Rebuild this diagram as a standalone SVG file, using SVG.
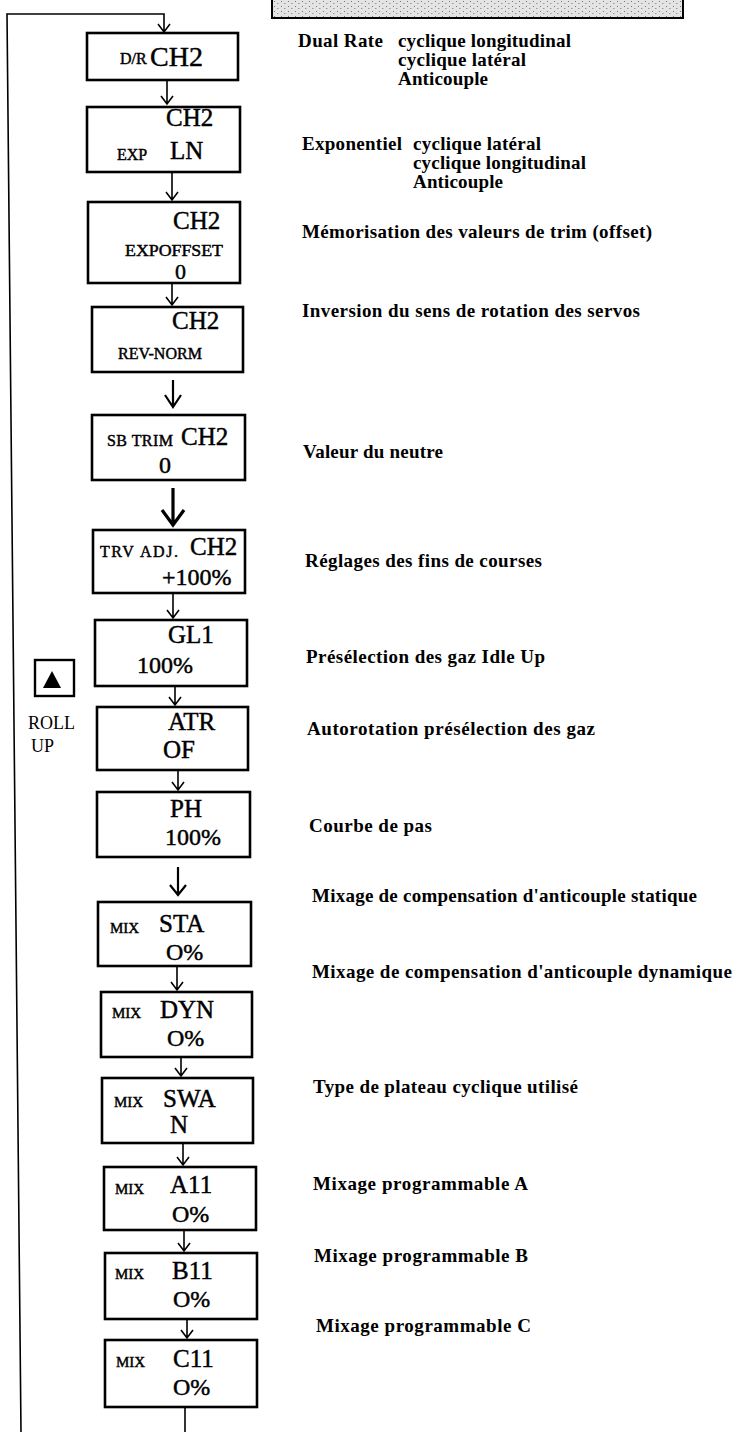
<svg xmlns="http://www.w3.org/2000/svg" width="736" height="1432" viewBox="0 0 736 1432">
<style>
.box{fill:#fff;stroke:#000;stroke-width:2.6}
text{font-family:"Liberation Serif","Times New Roman",serif;fill:#000}
.node text{stroke:#000;stroke-width:0.45}
.big{font-size:25px}
.sm{font-size:16px}
.mix{font-size:15px}
.desc{font-size:19px;font-weight:bold}
.ln{fill:none;stroke:#000;stroke-width:1.6}
.ln2{fill:none;stroke:#000;stroke-width:2.2}
.ln3{fill:none;stroke:#000;stroke-width:3.2}
</style>
<defs>
<pattern id="stip" width="7" height="5" patternUnits="userSpaceOnUse">
<rect width="7" height="5" fill="#e4e4e4"/>
<rect x="1" y="1" width="1" height="1" fill="#777"/>
<rect x="4" y="3" width="1.5" height="1" fill="#999"/>
</pattern>
</defs>
<rect width="736" height="1432" fill="#fff"/>
<rect x="272" y="-3" width="411" height="21" fill="url(#stip)" stroke="#000" stroke-width="2"/>

<g id="connectors">
<path class="ln" d="M21 1432 L7 14 L164 14 L164 32 M158 24 L164 32 L170 24"/>
<path class="ln" d="M167 81 V104 M161 96 L167 104 L173 96"/>
<path class="ln" d="M172 172 V200 M166 192 L172 200 L178 192"/>
<path class="ln" d="M172 283 V305 M166 297 L172 305 L178 297"/>
<path class="ln2" d="M173 380 V407 M165 395 L173 407 L181 395"/>
<path class="ln3" d="M173 488 V525 M162 510 L173 525 L184 510"/>
<path class="ln" d="M173 593 V618 M167 610 L173 618 L179 610"/>
<path class="ln" d="M175 686 V705 M169 697 L175 705 L181 697"/>
<path class="ln" d="M178 770 V790 M172 782 L178 790 L184 782"/>
<path class="ln2" d="M178 867 V895 M170 885 L178 895 L186 885"/>
<path class="ln" d="M177 966 V990 M171 982 L177 990 L183 982"/>
<path class="ln" d="M181 1057 V1076 M175 1068 L181 1076 L187 1068"/>
<path class="ln" d="M183 1143 V1165 M177 1157 L183 1165 L189 1157"/>
<path class="ln" d="M184 1230 V1251 M178 1243 L184 1251 L190 1243"/>
<path class="ln" d="M187 1319 V1338 M181 1330 L187 1338 L193 1330"/>
<path class="ln" d="M185 1407 V1432"/>
</g>

<g id="n1" class="node"><rect class="box" x="87" y="33" width="151" height="47"/>
<text class="sm" x="120" y="64" font-size="14">D/R</text><text x="150" y="66" font-size="28">CH2</text></g>
<g id="n2" class="node"><rect class="box" x="87" y="107" width="153" height="65"/>
<text class="big" x="166" y="126">CH2</text><text class="sm" x="117" y="160">EXP</text><text class="big" x="170" y="159">LN</text></g>
<g id="n3" class="node"><rect class="box" x="88" y="202" width="152" height="81"/>
<text class="big" x="173" y="229">CH2</text><text class="sm" x="125" y="256" textLength="98" lengthAdjust="spacingAndGlyphs">EXPOFFSET</text><text x="175" y="279" font-size="22">0</text></g>
<g id="n4" class="node"><rect class="box" x="92" y="307" width="151" height="65"/>
<text class="big" x="172" y="329">CH2</text><text class="sm" x="118" y="359">REV-NORM</text></g>
<g id="n5" class="node"><rect class="box" x="92" y="415" width="153" height="65"/>
<text class="sm" x="107" y="446" textLength="66">SB TRIM</text><text class="big" x="181" y="445">CH2</text><text x="159" y="473" font-size="24">0</text></g>
<g id="n6" class="node"><rect class="box" x="93" y="530" width="152" height="63"/>
<text class="sm" x="100" y="557" textLength="78">TRV ADJ.</text><text class="big" x="190" y="555">CH2</text><text x="162" y="585" font-size="24">+100%</text></g>
<g id="n7" class="node"><rect class="box" x="95" y="620" width="152" height="66"/>
<text class="big" x="168" y="643">GL1</text><text x="137" y="673" font-size="24">100%</text></g>
<g id="n8" class="node"><rect class="box" x="97" y="707" width="151" height="63"/>
<text class="big" x="168" y="730">ATR</text><text class="big" x="163" y="758">OF</text></g>
<g id="n9" class="node"><rect class="box" x="97" y="792" width="153" height="65"/>
<text class="big" x="170" y="817">PH</text><text x="165" y="845" font-size="24">100%</text></g>
<g id="n10" class="node"><rect class="box" x="98" y="902" width="153" height="64"/>
<text class="mix" x="110" y="933">MIX</text><text class="big" x="159" y="932">STA</text><text x="166" y="960" font-size="24">O%</text></g>
<g id="n11" class="node"><rect class="box" x="101" y="992" width="151" height="65"/>
<text class="mix" x="112" y="1018">MIX</text><text class="big" x="160" y="1018">DYN</text><text x="167" y="1046" font-size="24">O%</text></g>
<g id="n12" class="node"><rect class="box" x="102" y="1078" width="151" height="65"/>
<text class="mix" x="114" y="1107">MIX</text><text class="big" x="163" y="1107">SWA</text><text class="big" x="170" y="1133">N</text></g>
<g id="n13" class="node"><rect class="box" x="104" y="1167" width="152" height="63"/>
<text class="mix" x="115" y="1194">MIX</text><text class="big" x="170" y="1193">A11</text><text x="172" y="1222" font-size="24">O%</text></g>
<g id="n14" class="node"><rect class="box" x="105" y="1253" width="152" height="66"/>
<text class="mix" x="115" y="1279">MIX</text><text class="big" x="172" y="1279">B11</text><text x="173" y="1307" font-size="24">O%</text></g>
<g id="n15" class="node"><rect class="box" x="105" y="1340" width="152" height="67"/>
<text class="mix" x="116" y="1367">MIX</text><text class="big" x="173" y="1367">C11</text><text x="173" y="1395" font-size="24">O%</text></g>

<g id="rollup">
<rect x="35" y="660" width="39" height="36" fill="#fff" stroke="#000" stroke-width="2.4"/>
<path d="M43 688 L52 671 L61 688 Z" fill="#000"/>
<text x="28" y="729" font-size="18">ROLL</text>
<text x="31" y="752" font-size="18">UP</text>
</g>

<g id="descriptions">
<text class="desc" x="298" y="47" textLength="85">Dual Rate</text>
<text class="desc" x="398" y="47" textLength="173">cyclique longitudinal</text>
<text class="desc" x="398" y="66" textLength="128">cyclique latéral</text>
<text class="desc" x="398" y="85" textLength="90">Anticouple</text>
<text class="desc" x="302" y="150" textLength="100">Exponentiel</text>
<text class="desc" x="413" y="150" textLength="128">cyclique latéral</text>
<text class="desc" x="413" y="169" textLength="173">cyclique longitudinal</text>
<text class="desc" x="413" y="188" textLength="90">Anticouple</text>
<text class="desc" x="302" y="238" textLength="350">Mémorisation des valeurs de trim (offset)</text>
<text class="desc" x="302" y="317" textLength="338">Inversion du sens de rotation des servos</text>
<text class="desc" x="303" y="458" textLength="140">Valeur du neutre</text>
<text class="desc" x="305" y="567" textLength="237">Réglages des fins de courses</text>
<text class="desc" x="306" y="663" textLength="239">Présélection des gaz Idle Up</text>
<text class="desc" x="307" y="735" textLength="288">Autorotation présélection des gaz</text>
<text class="desc" x="309" y="832" textLength="123">Courbe de pas</text>
<text class="desc" x="312" y="902" textLength="385">Mixage de compensation d'anticouple statique</text>
<text class="desc" x="312" y="978" textLength="420">Mixage de compensation d'anticouple dynamique</text>
<text class="desc" x="313" y="1093" textLength="265">Type de plateau cyclique utilisé</text>
<text class="desc" x="313" y="1190" textLength="215">Mixage programmable A</text>
<text class="desc" x="314" y="1262" textLength="214">Mixage programmable B</text>
<text class="desc" x="316" y="1332" textLength="215">Mixage programmable C</text>
</g>
</svg>
